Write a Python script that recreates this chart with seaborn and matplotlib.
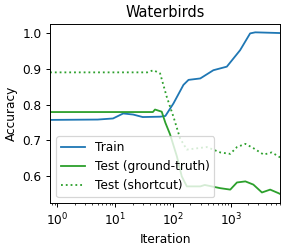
import numpy as np
import matplotlib
matplotlib.use("Agg")
import matplotlib.pyplot as plt
import pandas as pd
import seaborn as sns

# values
train_iter = [0.75, 5, 9.2, 13.8, 20.5, 30, 60, 74, 102, 152, 186, 297, 500, 855, 1450, 2160, 2650, 7100]
train_acc = [0.757, 0.758, 0.761, 0.775, 0.772, 0.765, 0.766, 0.768, 0.803, 0.855, 0.869, 0.873, 0.896, 0.906, 0.952, 0.999, 1.002, 1.0]

gt_iter = [0.75, 45, 49, 64, 74, 89, 117, 142, 174, 297, 355, 660, 980, 1280, 1790, 2460, 3460, 4800, 6700, 7100]
gt_acc = [0.779, 0.779, 0.786, 0.780, 0.749, 0.717, 0.655, 0.599, 0.571, 0.571, 0.575, 0.566, 0.562, 0.582, 0.585, 0.576, 0.554, 0.562, 0.552, 0.550]

sc_iter = [0.75, 36, 46, 60, 78, 102, 133, 174, 385, 660, 980, 1280, 1790, 2460, 3700, 5100, 6700, 7100]
sc_acc = [0.890, 0.890, 0.896, 0.887, 0.822, 0.766, 0.705, 0.674, 0.681, 0.666, 0.662, 0.681, 0.690, 0.678, 0.660, 0.666, 0.655, 0.652]

# reference looks like a default figure shrunk a bit, so draw at a lower dpi
dpi = 87
fig, ax = plt.subplots(figsize=(286 / dpi, 246 / dpi), dpi=dpi)
fig.subplots_adjust(left=0.175, right=0.979, bottom=0.174, top=0.902)

sns.lineplot(x=train_iter, y=train_acc, ax=ax, color='tab:blue', label='Train')
sns.lineplot(x=gt_iter, y=gt_acc, ax=ax, color='tab:green', label='Test (ground-truth)')
sns.lineplot(x=sc_iter, y=sc_acc, ax=ax, color='tab:green', linestyle=':', label='Test (shortcut)')

ax.set_xscale('log')
ax.set_xlim(0.75, 7100)
ax.set_ylim(0.524, 1.025)
ax.set_yticks([0.6, 0.7, 0.8, 0.9, 1.0])
ax.set_xlabel('Iteration')
ax.set_ylabel('Accuracy')
ax.set_title('Waterbirds')
ax.legend(loc='lower left')

plt.savefig('out.png', dpi=dpi)
